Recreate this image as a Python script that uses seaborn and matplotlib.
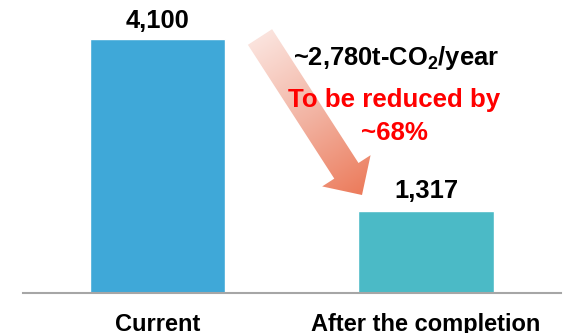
import numpy as np
import pandas as pd
import matplotlib
matplotlib.use("Agg")
import matplotlib.pyplot as plt
from matplotlib.patches import Polygon
from matplotlib.colors import LinearSegmentedColormap
import seaborn as sns

# ---- data ----
categories = ["Current", "After the completion"]
values = [4100, 1317]
bar_colors = ["#3FA8D8", "#4BBAC6"]
reduction_text = "~2,780t-CO$_2$/year"
reduced_line1 = "To be reduced by"
reduced_line2 = "~68%"

sns.set_style("white")
plt.rcParams["font.family"] = ["Liberation Sans", "DejaVu Sans"]
plt.rcParams["font.weight"] = "bold"
plt.rcParams["mathtext.fontset"] = "custom"
plt.rcParams["mathtext.rm"] = "Liberation Sans:bold"
plt.rcParams["mathtext.it"] = "Liberation Sans:bold"
plt.rcParams["mathtext.bf"] = "Liberation Sans:bold"
plt.rcParams["mathtext.default"] = "bf"

W, H = 563, 333
fig = plt.figure(figsize=(W / 100, H / 100), dpi=100)
ax = fig.add_axes([23 / W, (H - 292.5) / H, 538 / W, 292.5 / H])

df = pd.DataFrame({"cat": categories, "val": values})
sns.barplot(data=df, x="cat", y="val", hue="cat", palette=bar_colors,
            width=0.503, legend=False, ax=ax, saturation=1)

ax.set_xlim(-0.5009, 1.5028)
ax.set_ylim(0, 4731)
ax.set_xlabel("")
ax.set_ylabel("")
ax.set_yticks([])
sns.despine(ax=ax, left=True)
ax.spines["bottom"].set_color("#A6A6A6")
ax.spines["bottom"].set_linewidth(1.5)
ax.tick_params(axis="x", length=0, pad=14.5, labelsize=17, labelcolor="black")
for lbl in ax.get_xticklabels():
    lbl.set_fontweight("bold")

pads = [4.3, 5.5]
for cont, p in zip(ax.containers, pads):
    ax.bar_label(cont, fmt="{:,.0f}", padding=p, fontsize=18.4,
                 fontweight="bold", color="black")

inv = ax.transData.inverted()


def px2data(xp, yp):
    return inv.transform((xp, H - yp))


# ---- gradient arrow (annotation) ----
tail_c = np.array([260.0, 37.0])
tip = np.array([362.0, 195.0])
d = tip - tail_c
L = np.linalg.norm(d)
u = d / L
n = np.array([u[1], -u[0]])
hw_shaft, hw_head, head_len = 14.4, 28.8, 28.8
base = tail_c + u * (L - head_len)
pts_px = [tail_c + n * hw_shaft, base + n * hw_shaft, base + n * hw_head, tip,
          base - n * hw_head, base - n * hw_shaft, tail_c - n * hw_shaft]
pts_data = [px2data(*p) for p in pts_px]
poly = Polygon(pts_data, closed=True, facecolor="none", edgecolor="none",
               transform=ax.transData, zorder=3)
ax.add_patch(poly)

xs = [p[0] for p in pts_px]
ys = [p[1] for p in pts_px]
x0, x1, y0, y1 = min(xs) - 2, max(xs) + 2, min(ys) - 2, max(ys) + 2
gx, gy = np.meshgrid(np.linspace(x0, x1, 300), np.linspace(y0, y1, 300))
t = ((gx - tail_c[0]) * u[0] + (gy - tail_c[1]) * u[1]) / L
t = np.clip(t, 0, 1)
cmap = LinearSegmentedColormap.from_list("arr", ["#FBE3DD", "#F2B3A2", "#EC7B5B"])
dl = px2data(x0, y1)
ur = px2data(x1, y0)
im = ax.imshow(t, cmap=cmap, vmin=0, vmax=1, extent=(dl[0], ur[0], dl[1], ur[1]),
               origin="upper", aspect="auto", zorder=3, interpolation="bilinear")
im.set_clip_path(poly)
ax.set_xlim(-0.5009, 1.5028)
ax.set_ylim(0, 4731)

# ---- text annotations ----
p = px2data(396, 65)
ax.text(p[0], p[1], reduction_text, ha="center", va="baseline", fontsize=18.4,
        fontweight="bold", color="black", zorder=5)
p = px2data(394.5, 106.7)
ax.text(p[0], p[1], reduced_line1, ha="center", va="baseline", fontsize=18.6,
        fontweight="bold", color="#FF0000", zorder=5)
p = px2data(394, 140)
ax.text(p[0], p[1], reduced_line2, ha="center", va="baseline", fontsize=18.6,
        fontweight="bold", color="#FF0000", zorder=5)

fig.savefig("out.png", dpi=100)
